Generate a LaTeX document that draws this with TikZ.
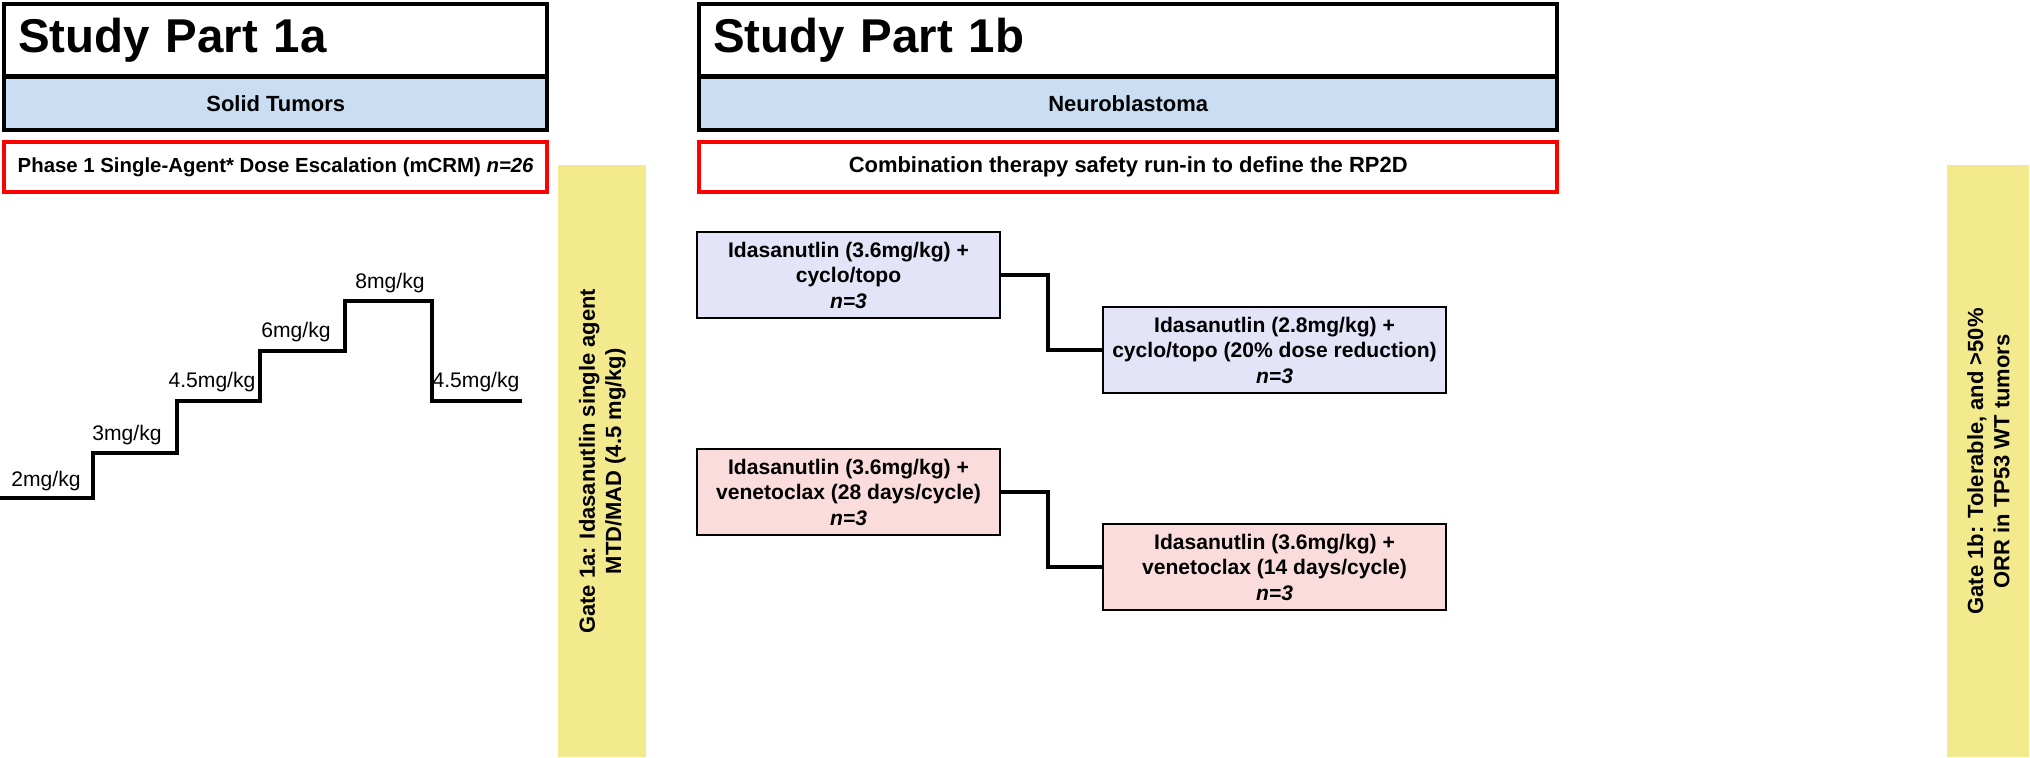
\documentclass[tikz,border=0pt]{standalone}
\usepackage{fontspec}
\setmainfont{Liberation Sans}
\usepackage{tikz}
\definecolor{tumblue}{HTML}{C9DDF3}
\definecolor{gateyel}{HTML}{F3EA8E}
\definecolor{armlav}{HTML}{E4E4F9}
\definecolor{armpink}{HTML}{FADCDC}
\tikzset{
  hdr/.style={draw,line width=2.5pt,minimum height=60*0.02cm,inner sep=8pt,font=\bfseries\fontsize{27}{30}\selectfont},
  bar/.style={draw,line width=2.5pt,minimum height=53*0.02cm,font=\bfseries\fontsize{12.5}{15}\selectfont},
  arm/.style={draw,line width=1.2pt,align=center,font=\bfseries\fontsize{12}{14.5}\selectfont,inner sep=2pt},
  gate/.style={fill=gateyel,minimum height=592*0.02cm,minimum width=88*0.02cm},
  gatetext/.style={rotate=90,align=center,font=\bfseries\fontsize{12.5}{15}\selectfont},
  lbl/.style={font=\fontsize{12}{14}\selectfont}
}
\begin{document}
\begin{tikzpicture}[x=0.02cm,y=-0.02cm]
\useasboundingbox (0,0) rectangle (2030,757);
% study part 1a
\node[hdr,anchor=north west,minimum width=543*0.02cm,text width=543*0.02cm-16pt] (p1a) at (2,2) {Study Part 1a};
\node[bar,fill=tumblue,anchor=north west,minimum width=543*0.02cm] (solid) at (2,75) {Solid Tumors};
\node[bar,draw=red,anchor=north west,minimum width=543*0.02cm,minimum height=50*0.02cm,inner xsep=1pt,font=\bfseries\fontsize{11.6}{14}\selectfont] (phase) at (2,140) {Phase 1 Single-Agent* Dose Escalation (mCRM) \textit{n=26}};
\node[gate,anchor=north west] (gate1a) at (558,165) {};
\node[gatetext] (g1a) at (gate1a.center) {Gate 1a: Idasanutlin single agent\\MTD/MAD (4.5 mg/kg)};
% staircase
\draw[line width=2.5pt] (0,498) -- (93,498) -- (93,453) -- (177,453) -- (177,401) -- (260,401) -- (260,351) -- (345,351) -- (345,301) -- (432,301) -- (432,401) -- (522,401);
\node[lbl] (d1) at (46,481) {2mg/kg};
\node[lbl] (d2) at (127,435) {3mg/kg};
\node[lbl] (d3) at (212,382) {4.5mg/kg};
\node[lbl] (d4) at (296,332) {6mg/kg};
\node[lbl] (d5) at (390,283) {8mg/kg};
\node[lbl] (d6) at (476,382) {4.5mg/kg};
% study part 1b
\node[hdr,anchor=north west,minimum width=858*0.02cm,text width=858*0.02cm-16pt] (p1b) at (697,2) {Study Part 1b};
\node[bar,fill=tumblue,anchor=north west,minimum width=858*0.02cm] (neuro) at (697,75) {Neuroblastoma};
\node[bar,draw=red,anchor=north west,minimum width=858*0.02cm,minimum height=50*0.02cm] (combo) at (697,140) {Combination therapy safety run-in to define the RP2D};
\node[gate,anchor=north west,minimum width=82*0.02cm] (gate1b) at (1947,165) {};
\node[gatetext] (g1b) at (gate1b.center) {Gate 1b: Tolerable, and >50\%\\ORR in TP53 WT tumors};
% arms
\node[arm,fill=armlav,minimum width=303*0.02cm,minimum height=86*0.02cm] (a1) at (848.5,275) {Idasanutlin (3.6mg/kg) +\\cyclo/topo\\\textit{n=3}};
\node[arm,fill=armlav,minimum width=343*0.02cm,minimum height=86*0.02cm] (a2) at (1274.5,350) {Idasanutlin (2.8mg/kg) +\\cyclo/topo (20\% dose reduction)\\\textit{n=3}};
\node[arm,fill=armpink,minimum width=303*0.02cm,minimum height=86*0.02cm] (b1) at (848.5,492) {Idasanutlin (3.6mg/kg) +\\venetoclax (28 days/cycle)\\\textit{n=3}};
\node[arm,fill=armpink,minimum width=343*0.02cm,minimum height=86*0.02cm] (b2) at (1274.5,567) {Idasanutlin (3.6mg/kg) +\\venetoclax (14 days/cycle)\\\textit{n=3}};
\draw[line width=2.5pt] (a1.east) -- (1048,275) |- (a2.west);
\draw[line width=2.5pt] (b1.east) -- (1048,492) |- (b2.west);
\end{tikzpicture}
\end{document}
